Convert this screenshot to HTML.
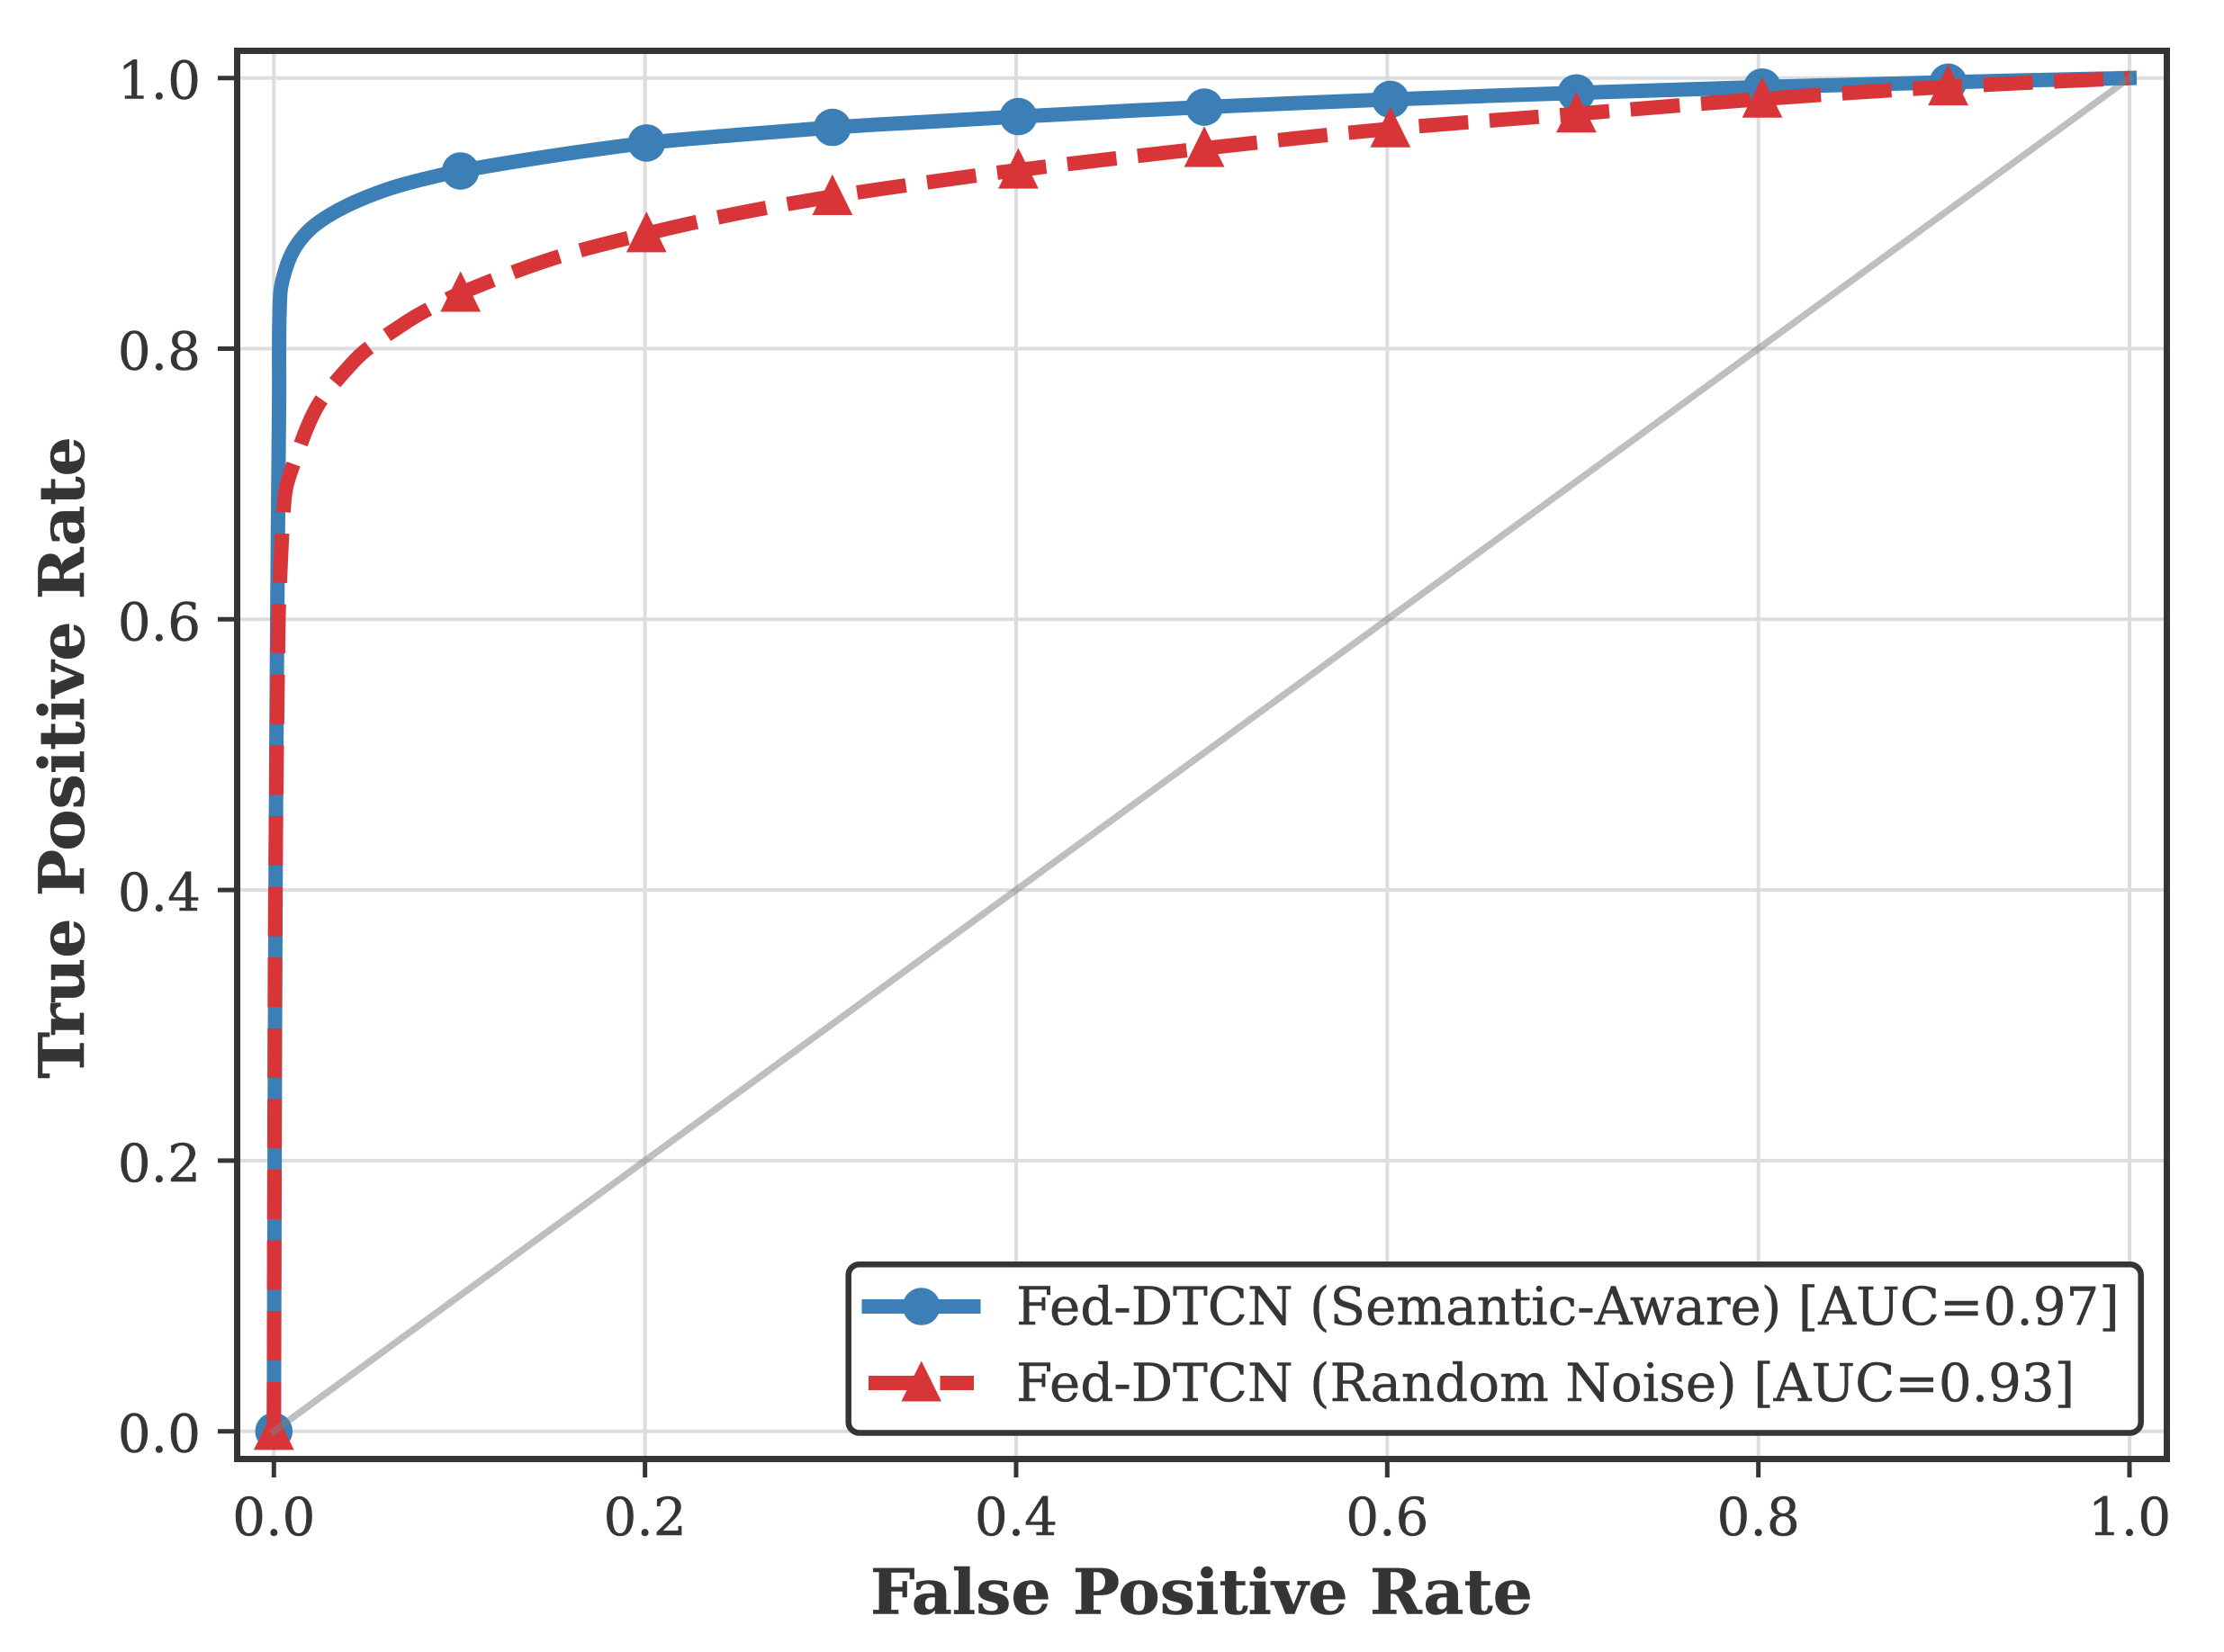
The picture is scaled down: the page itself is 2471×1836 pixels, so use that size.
<!DOCTYPE html>
<html lang="en">
<head>
<meta charset="utf-8">
<title>ROC Curve</title>
<style>
html,body{margin:0;padding:0;background:#fff;}
svg{display:block;}
text{font-family:"DejaVu Serif","Liberation Serif",serif;fill:#363434;stroke:#363434;stroke-width:0.5;}
</style>
</head>
<body>
<svg id="chart" xmlns="http://www.w3.org/2000/svg" width="2471" height="1836" viewBox="0 0 2471 1836">
  <rect x="0" y="0" width="2471" height="1836" fill="#ffffff"/>
  <g id="grid"></g>
  <g id="series"></g>
  <g id="spines"></g>
  <g id="ticks"></g>
  <text x="1335" y="1793.5" text-anchor="middle" font-size="69.6" font-weight="700">False Positive Rate</text>
  <text transform="translate(93,842) rotate(-90)" x="0" y="0" text-anchor="middle" font-size="69.6" font-weight="700">True Positive Rate</text>
  <g>
    <rect x="942.7" y="1405.2" width="1436" height="187.3" rx="12" ry="12" fill="#ffffff" stroke="#363434" stroke-width="6.5"/>
    <g>
      <line x1="965.5" y1="1452" x2="1081.5" y2="1452" stroke="#3b7fb6" stroke-width="16" stroke-linecap="square"/>
      <circle cx="1023.7" cy="1452" r="20.8" fill="#3b7fb6"/>
      <text x="1129" y="1472" font-size="57.85">Fed-DTCN (Semantic-Aware) [AUC=0.97]</text>
    </g>
    <g>
      <line x1="965" y1="1537" x2="1082" y2="1537" stroke="#d83539" stroke-width="16" stroke-dasharray="55.5 24"/>
      <polygon points="1023.7,1512.5 1046,1557.5 1001.4,1557.5" fill="#d83539"/>
      <text x="1129" y="1557" font-size="57.85">Fed-DTCN (Random Noise) [AUC=0.93]</text>
    </g>
  </g>
</svg>
<script>
var xTickValues = [0, 0.2, 0.4, 0.6, 0.8, 1.0];
var yTickValues = [0, 0.2, 0.4, 0.6, 0.8, 1.0];
var xTickLabels = ["0.0", "0.2", "0.4", "0.6", "0.8", "1.0"];
var yTickLabels = ["0.0", "0.2", "0.4", "0.6", "0.8", "1.0"];
var gridXValues = [0, 0.2, 0.4, 0.6, 0.8, 1.0];
var gridYValues = [0, 0.2, 0.4, 0.6, 0.8, 1.0];
var diagonalFpr = [0, 1];
var diagonalTpr = [0, 1];
var blueFpr = [0, 0.0004, 0.0009, 0.0018, 0.0028, 0.0034, 0.0066, 0.0115, 0.0197, 0.0304, 0.043, 0.0595, 0.0755, 0.1006, 0.15, 0.2008, 0.25, 0.301, 0.35, 0.4012, 0.5014, 0.6017, 0.7019, 0.8021, 0.9023, 1];
var blueTpr = [0, 0.2, 0.4, 0.6, 0.76, 0.84, 0.86, 0.875, 0.8885, 0.899, 0.908, 0.917, 0.9235, 0.9313, 0.9425, 0.952, 0.958, 0.9635, 0.9675, 0.9715, 0.9785, 0.9842, 0.989, 0.9933, 0.9969, 1];
var redFpr = [0, 0.0003, 0.0008, 0.0025, 0.0033, 0.0052, 0.0068, 0.0116, 0.0189, 0.026, 0.0416, 0.0501, 0.0707, 0.0804, 0.1006, 0.15, 0.2008, 0.25, 0.301, 0.35, 0.4012, 0.5014, 0.6017, 0.7019, 0.8021, 0.9023, 1];
var redTpr = [0, 0.2, 0.4, 0.6, 0.63, 0.6806, 0.6986, 0.7185, 0.745, 0.763, 0.7884, 0.7995, 0.819, 0.827, 0.841, 0.8665, 0.885, 0.9, 0.9125, 0.9225, 0.932, 0.948, 0.9625, 0.9735, 0.9845, 0.9935, 1];
var blueMarkerFpr = [0, 0.1006, 0.2008, 0.301, 0.4012, 0.5014, 0.6017, 0.7019, 0.8021, 0.9023];
var redMarkerFpr = [0, 0.1006, 0.2008, 0.301, 0.4012, 0.5014, 0.6017, 0.7019, 0.8021, 0.9023];

var SVG_NS = 'http://www.w3.org/2000/svg';
function xScale(v) { return 304.3 + 2061.7 * v; }
function yScale(v) { return 1590.7 - 1504 * v; }
function make(tag, parent) {
  var el = document.createElementNS(SVG_NS, tag);
  parent.appendChild(el);
  return el;
}
function interp(xs, ys, x) {
  for (var i = 1; i < xs.length; i++) {
    if (x <= xs[i]) {
      var t = (x - xs[i - 1]) / (xs[i] - xs[i - 1] || 1);
      return ys[i - 1] + t * (ys[i] - ys[i - 1]);
    }
  }
  return ys[ys.length - 1];
}
function smoothPath(xs, ys) {
  var pts = xs.map(function (x, i) { return [xScale(x), yScale(ys[i])]; });
  var dist = [];
  for (var i = 0; i < pts.length - 1; i++) {
    dist.push(Math.hypot(pts[i + 1][0] - pts[i][0], pts[i + 1][1] - pts[i][1]));
  }
  var tang = pts.map(function (p, i) {
    if (i === 0) { return [(pts[1][0] - p[0]) / dist[0], (pts[1][1] - p[1]) / dist[0]]; }
    if (i === pts.length - 1) { return [(p[0] - pts[i - 1][0]) / dist[i - 1], (p[1] - pts[i - 1][1]) / dist[i - 1]]; }
    var d = dist[i - 1] + dist[i];
    return [(pts[i + 1][0] - pts[i - 1][0]) / d, (pts[i + 1][1] - pts[i - 1][1]) / d];
  });
  var out = 'M' + pts[0][0].toFixed(2) + ' ' + pts[0][1].toFixed(2);
  for (var j = 0; j < pts.length - 1; j++) {
    var h = dist[j] / 3;
    out += ' C' + (pts[j][0] + tang[j][0] * h).toFixed(2) + ' ' + (pts[j][1] + tang[j][1] * h).toFixed(2) +
      ' ' + (pts[j + 1][0] - tang[j + 1][0] * h).toFixed(2) + ' ' + (pts[j + 1][1] - tang[j + 1][1] * h).toFixed(2) +
      ' ' + pts[j + 1][0].toFixed(2) + ' ' + pts[j + 1][1].toFixed(2);
  }
  return out;
}

var gridLayer = document.getElementById('grid');
gridXValues.forEach(function (v) {
  var el = make('line', gridLayer);
  
  
  el.setAttribute('x1', xScale(v));
  el.setAttribute('x2', xScale(v));
  el.setAttribute('y1', 56.5);
  el.setAttribute('y2', 1621.5);
  el.setAttribute('stroke', '#dcdddf');
  el.setAttribute('stroke-width', 4);
});
gridYValues.forEach(function (v) {
  var el = make('line', gridLayer);
  
  
  el.setAttribute('x1', 263.5);
  el.setAttribute('x2', 2407.5);
  el.setAttribute('y1', yScale(v));
  el.setAttribute('y2', yScale(v));
  el.setAttribute('stroke', '#dcdddf');
  el.setAttribute('stroke-width', 4);
});

var seriesLayer = document.getElementById('series');

var blueLine = make('path', seriesLayer);


blueLine.setAttribute('d', smoothPath(blueFpr, blueTpr));
blueLine.setAttribute('fill', 'none');
blueLine.setAttribute('stroke', '#3b7fb6');
blueLine.setAttribute('stroke-width', 16);
blueLine.setAttribute('stroke-linecap', 'square');
blueLine.setAttribute('stroke-linejoin', 'round');

blueMarkerFpr.forEach(function (f) {
  var el = make('circle', seriesLayer);
  
  
  el.setAttribute('cx', xScale(f));
  el.setAttribute('cy', yScale(interp(blueFpr, blueTpr, f)));
  el.setAttribute('r', 20.8);
  el.setAttribute('fill', '#3b7fb6');
});

var redLine = make('path', seriesLayer);


redLine.setAttribute('d', smoothPath(redFpr, redTpr));
redLine.setAttribute('fill', 'none');
redLine.setAttribute('stroke', '#d83539');
redLine.setAttribute('stroke-width', 16);
redLine.setAttribute('stroke-linejoin', 'round');
var redDashLength = redLine.getTotalLength() - 5.4;
var redDashCount = Math.round(redDashLength / 79.5);
var redDashPeriod = redDashLength / redDashCount;
redLine.setAttribute('stroke-dasharray', (redDashPeriod * 0.698).toFixed(3) + ' ' + (redDashPeriod * 0.302).toFixed(3));

redMarkerFpr.forEach(function (f) {
  var cx = xScale(f);
  var cy = yScale(interp(redFpr, redTpr, f));
  var el = make('polygon', seriesLayer);
  
  
  el.setAttribute('points', cx + ',' + (cy - 24.5) + ' ' + (cx + 22.4) + ',' + (cy + 20.7) + ' ' + (cx - 22.4) + ',' + (cy + 20.7));
  el.setAttribute('fill', '#d83539');
});

var diagonal = make('line', seriesLayer);


diagonal.setAttribute('x1', xScale(diagonalFpr[0]));
diagonal.setAttribute('y1', yScale(diagonalTpr[0]));
diagonal.setAttribute('x2', xScale(diagonalFpr[1]));
diagonal.setAttribute('y2', yScale(diagonalTpr[1]));
diagonal.setAttribute('stroke', '#808080');
diagonal.setAttribute('stroke-opacity', '0.5');
diagonal.setAttribute('stroke-width', 7.5);
diagonal.setAttribute('stroke-linecap', 'square');

var spines = document.getElementById('spines');
var frame = make('rect', spines);


frame.setAttribute('x', 263.5);
frame.setAttribute('y', 56.5);
frame.setAttribute('width', 2144);
frame.setAttribute('height', 1565);
frame.setAttribute('fill', 'none');
frame.setAttribute('stroke', '#363434');
frame.setAttribute('stroke-width', 7);

var ticks = document.getElementById('ticks');
xTickValues.forEach(function (v, i) {
  var tick = make('line', ticks);
  
  
  tick.setAttribute('x1', xScale(v));
  tick.setAttribute('x2', xScale(v));
  tick.setAttribute('y1', 1625);
  tick.setAttribute('y2', 1642);
  tick.setAttribute('stroke', '#363434');
  tick.setAttribute('stroke-width', 5);
  var label = make('text', ticks);
  
  
  label.setAttribute('x', xScale(v));
  label.setAttribute('y', 1706);
  label.setAttribute('text-anchor', 'middle');
  label.setAttribute('font-size', 58);
  label.textContent = xTickLabels[i];
});
yTickValues.forEach(function (v, i) {
  var tick = make('line', ticks);
  
  
  tick.setAttribute('x1', 242);
  tick.setAttribute('x2', 260);
  tick.setAttribute('y1', yScale(v));
  tick.setAttribute('y2', yScale(v));
  tick.setAttribute('stroke', '#363434');
  tick.setAttribute('stroke-width', 5);
  var label = make('text', ticks);
  
  
  label.setAttribute('x', 223);
  label.setAttribute('y', yScale(v) + 23);
  label.setAttribute('text-anchor', 'end');
  label.setAttribute('font-size', 58);
  label.textContent = yTickLabels[i];
});
</script>
</body>
</html>
